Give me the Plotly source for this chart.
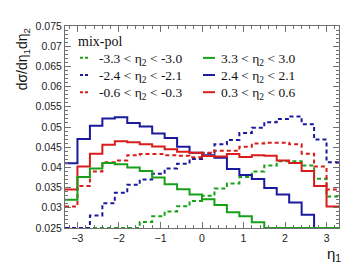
import plotly.graph_objects as go

# bin edges of eta_1
edges = [-3.3, -3.0, -2.7, -2.4, -2.1, -1.8, -1.5, -1.2, -0.9, -0.6, -0.3, 0.0,
         0.3, 0.6, 0.9, 1.2, 1.5, 1.8, 2.1, 2.4, 2.7, 3.0, 3.3]

# dashed series (negative eta_2 ranges)
green_dash = [0.025, 0.025, 0.025, 0.025, 0.025, 0.025, 0.0265, 0.0279, 0.0291, 0.0304, 0.0317,
              0.0330, 0.0348, 0.0360, 0.0376, 0.0390, 0.0405, 0.0415, 0.0415, 0.0405, 0.0372, 0.0328]
blue_dash = [0.025, 0.025, 0.0281, 0.0311, 0.0337, 0.0357, 0.0370, 0.0384, 0.0397, 0.0409, 0.0421,
             0.0435, 0.0457, 0.0468, 0.0485, 0.0498, 0.0512, 0.0520, 0.0526, 0.0507, 0.0469, 0.0413]
red_dash = [0.0303, 0.0354, 0.0390, 0.0413, 0.0417, 0.0430, 0.0433, 0.0433, 0.0430, 0.0429, 0.0425,
            0.0436, 0.0441, 0.0441, 0.0451, 0.0459, 0.0461, 0.0461, 0.0457, 0.0434, 0.0402, 0.0345]

# solid series (positive eta_2 ranges)
green_solid = [0.0320, 0.0376, 0.0397, 0.0411, 0.0408, 0.0400, 0.0391, 0.0375, 0.0358, 0.0346, 0.0333,
               0.0321, 0.0307, 0.0289, 0.0279, 0.0264, 0.025, 0.025, 0.025, 0.025, 0.025, 0.025]
blue_solid = [0.0410, 0.0470, 0.0503, 0.0521, 0.0524, 0.0510, 0.0501, 0.0484, 0.0473, 0.0451, 0.0436,
              0.0430, 0.0424, 0.0396, 0.0381, 0.0371, 0.0349, 0.0333, 0.0313, 0.0283, 0.025, 0.025]
red_solid = [0.0345, 0.0402, 0.0434, 0.0456, 0.0465, 0.0462, 0.0457, 0.0452, 0.0445, 0.0439, 0.0436,
             0.0428, 0.0427, 0.0433, 0.0426, 0.0430, 0.0429, 0.0417, 0.0411, 0.0391, 0.0354, 0.0303]

labels_dash = ["-3.3 &lt; η<sub>2</sub> &lt; -3.0", "-2.4 &lt; η<sub>2</sub> &lt; -2.1",
               "-0.6 &lt; η<sub>2</sub> &lt; -0.3"]
labels_solid = ["3.3 &lt; η<sub>2</sub> &lt; 3.0", "2.4 &lt; η<sub>2</sub> &lt; 2.1",
                "0.3 &lt; η<sub>2</sub> &lt; 0.6"]

GREEN = "#18a018"
BLUE = "#1a1a9c"
RED = "#d91c1c"

W, H = 349, 263
L, R, T, B = 57, 18, 14, 43
PW, PH = W - L - R, H - T - B

def px(x):
    return (x - L) / PW

def py(y):
    return (H - B - y) / PH

fig = go.Figure()

series = [
    (green_dash, GREEN, "4px,3px"),
    (blue_dash, BLUE, "4px,3px"),
    (red_dash, RED, "4px,3px"),
    (blue_solid, BLUE, "solid"),
    (red_solid, RED, "solid"),
    (green_solid, GREEN, "solid"),
]
for vals, col, dash in series:
    fig.add_trace(go.Scatter(
        x=edges, y=list(vals) + [vals[-1]], mode="lines", line_shape="hv",
        line=dict(color=col, width=2, dash=dash), showlegend=False, hoverinfo="skip"))

SANS = "Liberation Sans"
SERIF = "'Liberation Serif', 'Times New Roman', 'DejaVu Serif', serif"

axis_common = dict(
    showgrid=False, zeroline=False, showline=True, linecolor="#707070", linewidth=1,
    mirror="allticks", ticks="inside", tickcolor="#707070", ticklen=6, tickwidth=1,
    tickfont=dict(family=SANS, size=10.5, color="#222"),
)

fig.update_xaxes(range=[-3.3, 3.3], dtick=1, tick0=0,
                 minor=dict(ticks="inside", ticklen=3, dtick=0.2, tick0=0, tickcolor="#707070"),
                 **axis_common)
fig.update_yaxes(range=[0.025, 0.075], dtick=0.005, tick0=0.025,
                 minor=dict(ticks="inside", ticklen=3, dtick=0.001, tick0=0.025, tickcolor="#707070"),
                 **axis_common)

ann = []
ann.append(dict(x=px(68), y=py(30), xref="paper", yref="paper", xanchor="left", yanchor="middle",
                text="mix-pol", showarrow=False, font=dict(family=SERIF, size=14, color="#111")))
row_y = [46.5, 64, 81.5]
shapes = []
for i in range(3):
    ann.append(dict(x=px(89), y=py(row_y[i] + 1.5), xref="paper", yref="paper", xanchor="left",
                    yanchor="middle", text=labels_dash[i], showarrow=False,
                    font=dict(family=SERIF, size=13.5, color="#111")))
    ann.append(dict(x=px(211), y=py(row_y[i] + 1.5), xref="paper", yref="paper", xanchor="left",
                    yanchor="middle", text=labels_solid[i], showarrow=False,
                    font=dict(family=SERIF, size=13.5, color="#111")))
    col = [GREEN, BLUE, RED][i]
    shapes.append(dict(type="line", xref="paper", yref="paper", x0=px(72), x1=px(80),
                       y0=py(row_y[i]), y1=py(row_y[i]), line=dict(color=col, width=2, dash="3px,2px")))
    shapes.append(dict(type="line", xref="paper", yref="paper", x0=px(195), x1=px(207),
                       y0=py(row_y[i]), y1=py(row_y[i]), line=dict(color=col, width=2)))

ann.append(dict(x=px(15), y=py(48), xref="paper", yref="paper", xanchor="center", yanchor="middle",
                text="dσ/dη<sub>1</sub>dη<sub>2</sub>", textangle=-90, showarrow=False,
                font=dict(family=SANS, size=14, color="#111")))
ann.append(dict(x=px(326), y=py(247), xref="paper", yref="paper", xanchor="center", yanchor="middle",
                text="η<sub>1</sub>", showarrow=False,
                font=dict(family=SANS, size=15, color="#111")))

fig.update_layout(
    width=W, height=H, margin=dict(l=L, r=R, t=T, b=B),
    paper_bgcolor="white", plot_bgcolor="white",
    annotations=ann, shapes=shapes, showlegend=False,
)

fig.write_html("out.html")
